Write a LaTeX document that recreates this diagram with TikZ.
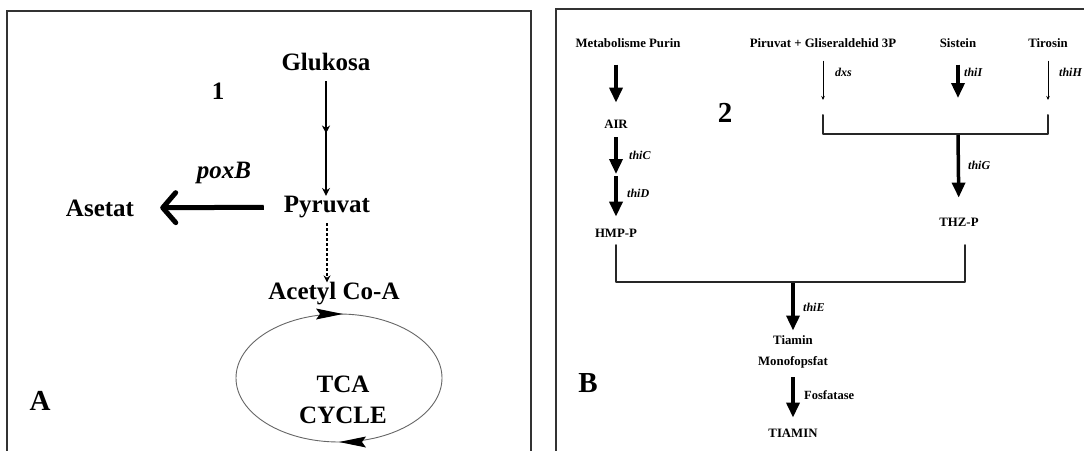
\documentclass[tikz,border=0pt]{standalone}
\usepackage{fontspec}
\setmainfont{Liberation Serif}
\usetikzlibrary{arrows.meta,decorations.markings}
\begin{document}
\begin{tikzpicture}[x=1pt,y=-1pt,
  panel/.style={draw=black!80,line width=2pt},
  big/.style={font=\fontsize{25}{31}\selectfont\bfseries,inner sep=0pt},
  bigit/.style={font=\fontsize{25}{31}\selectfont\bfseries\itshape,inner sep=0pt},
  biglab/.style={font=\fontsize{29}{31}\selectfont\bfseries,inner sep=0pt},
  sm/.style={font=\fontsize{12.8}{21}\selectfont\bfseries,inner sep=0pt},
  smit/.style={font=\fontsize{12}{14}\selectfont\bfseries\itshape,inner sep=0pt,anchor=west},
  glyarr/.style={line width=1.3pt,-{Stealth[length=8pt,width=8pt]},
    postaction={decorate,decoration={markings,mark=at position 0.5 with {\arrow{Stealth[length=8pt,width=8pt]}}}}},
  dasharr/.style={line width=1.2pt,dash pattern=on 3pt off 2pt,-{Stealth[length=7pt,width=7pt]}},
  fatarr/.style={line width=5pt,-{Straight Barb[length=13pt,width=30pt,line cap=round,line join=round]}},
  thickarr/.style={line width=3.5pt,-{Triangle[length=15pt,width=13pt]}},
  thinarr/.style={line width=1pt,-{Stealth[length=4pt,width=3.5pt]}},
  brk/.style={line width=2pt,black!85,line cap=round,line join=round},
  cyc/.style={draw=black!60,line width=0.9pt},
  cychead/.style={fill=black}
]
\useasboundingbox (0,0) rectangle (1084,450);
\fill[white] (0,0) rectangle (1084,450);
% panels
\draw[panel] (7,470) -- (7,11) -- (531,11) -- (531,470);
\draw[panel] (556,470) -- (556,8.5) -- (1100,8.5);

% ---------- panel A ----------
\node[big] (glu) at (326,62) {Glukosa};
\node[big] (one) at (218,91) {1};
\node[big] (pyr) at (327,207) {Pyruvat};
\node[big] (ase) at (100,208) {Asetat};
\node[bigit] (poxb) at (224,173) {poxB};
\node[big] (acoa) at (334,294) {Acetyl Co-A};
\node[big,align=center] (tca) at (343,400) {TCA\\CYCLE};
\node[biglab] (A) at (40,401) {A};

\draw[glyarr,shorten <=10pt] (glu.south) -- (glu.south |- pyr.north);
\draw[fatarr,shorten <=20pt,shorten >=26pt] (pyr) -- (ase);
\draw[dasharr,shorten <=5pt] (pyr.south) -- (pyr.south |- acoa.north);
\draw[cyc] (339,378) ellipse [x radius=103pt,y radius=64pt];
\fill[cychead] (343,314) -- (316,308.5) -- (320,314) -- (316,319.5) -- cycle;
\fill[cychead] (339,442) -- (366,436.5) -- (362,442) -- (366,447.5) -- cycle;

% ---------- panel B ----------
\node[sm] (mp) at (628,43) {Metabolisme Purin};
\node[sm] (air) at (616,124) {AIR};
\node[sm] (hmp) at (616,233) {HMP-P};
\node[biglab] (two) at (725,113) {2};
\node[sm] (pg) at (823,43) {Piruvat + Gliseraldehid 3P};
\node[sm] (sis) at (958,43) {Sistein};
\node[sm] (tir) at (1048,43) {Tirosin};
\node[sm] (thz) at (959,222) {THZ-P};
\node[sm,align=center] (tmp) at (793,352) {Tiamin\\Monofopsfat};
\node[sm] (tia) at (793,433) {TIAMIN};
\node[biglab] (B) at (588,383) {B};

\coordinate (airmid) at (616,175);
\coordinate (dxsend) at (823,100);
\coordinate (sisend) at (958,98);
\coordinate (tirend) at (1048,100);
\coordinate (b1) at (823,115);
\coordinate (b3) at (1048,134);
\coordinate (j1) at (958,134);
\coordinate (h1) at (616,245);
\coordinate (h3) at (965,282);
\coordinate (j2) at (793,282);

\draw[thickarr,shorten <=17pt,shorten >=17pt] (mp.south -| air) -- (air);
\draw[thickarr,shorten <=9pt,shorten >=1pt] (air) -- (airmid);
\draw[thickarr,shorten <=1pt,shorten >=12pt] (airmid) -- (hmp);
\node[smit] (thic) at (629,155) {thiC};
\node[smit] (thid) at (627,193) {thiD};

\draw[thinarr,shorten <=13pt] (pg) -- (dxsend);
\node[smit] (dxs) at (835,72) {dxs};
\draw[thickarr,shorten <=17pt] (sis) -- (sisend);
\node[smit] (thii) at (964,72) {thiI};
\draw[thinarr,shorten <=13pt] (tir) -- (tirend);
\node[smit] (thih) at (1059,72) {thiH};

\draw[brk] (b1) |- (b3) -- (b3 |- b1);
\draw[thickarr,shorten <=1pt,shorten >=20pt] (j1) -- (thz);
\node[smit] (thig) at (968,165) {thiG};

\draw[brk] (h1) |- (h3) -- (h3 |- h1);
\draw[thickarr,shorten <=1pt,shorten >=5pt] (j2) -- (tmp);
\node[smit] (thie) at (803,307) {thiE};
\draw[thickarr,shorten <=8.5pt,shorten >=11pt] (tmp) -- (tia);
\node[smit,font=\fontsize{12.5}{14}\selectfont\bfseries] (fos) at (804,395) {Fosfatase};
\end{tikzpicture}
\end{document}
